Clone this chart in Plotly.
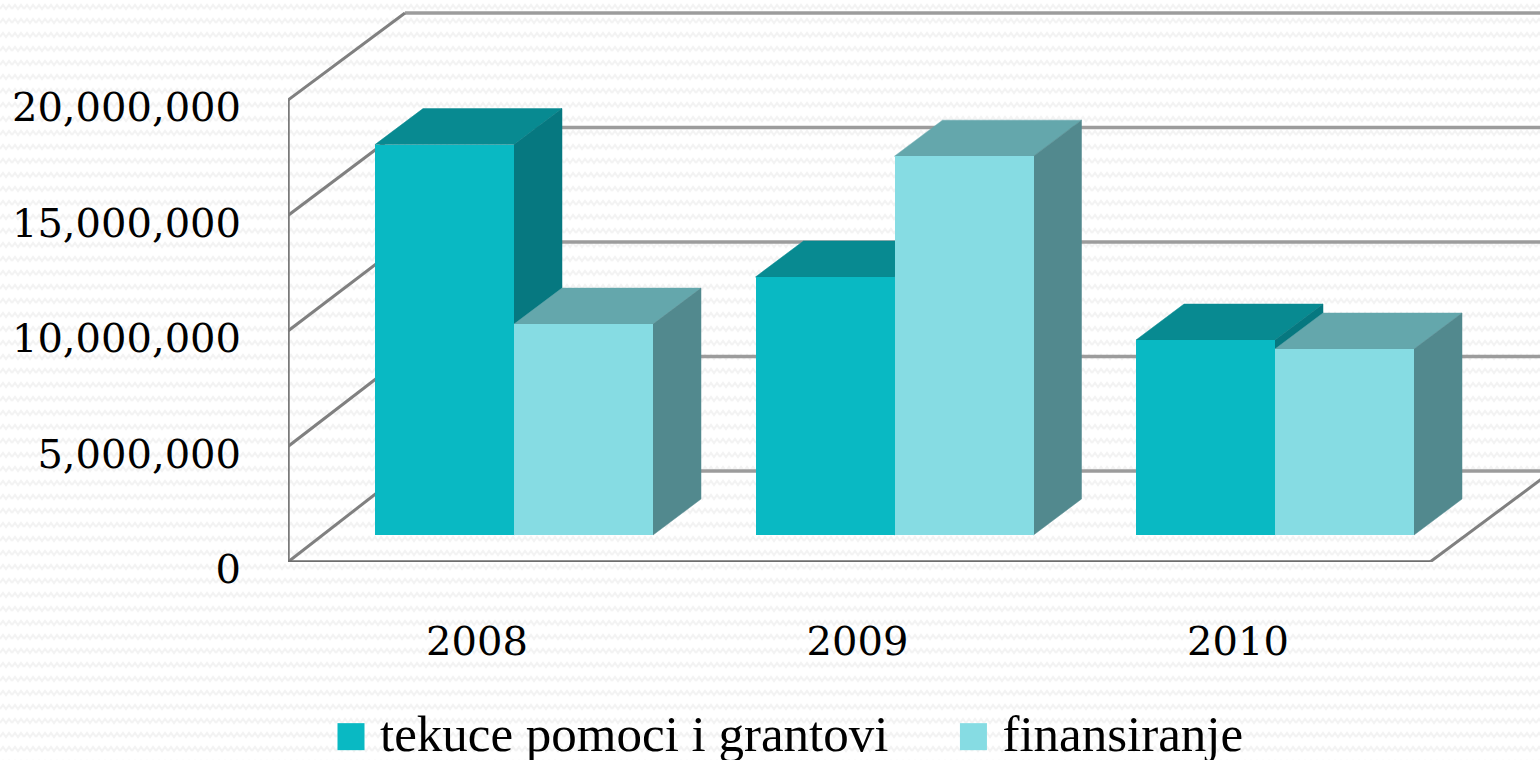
import plotly.graph_objects as go

# ---- data ----
years = ["2008", "2009", "2010"]
tekuce = [16900000, 11170000, 8440000]
finansiranje = [9130000, 16400000, 8050000]
y_ticks = [0, 5000000, 10000000, 15000000, 20000000]
names = ["tekuce pomoci i grantovi\u00a0\u00a0\u00a0\u00a0", "finansiranje"]

# ---- pseudo-3D geometry in axis units ----
PX_X = 380.5            # pixels per category
PX_Y = 462.0 / 20000000 # pixels per value unit
L, R, T, B = 288, 1540, 0, 562
BAR_W = 139 / PX_X
BAR_DX = 37 / PX_X      # bars sit part-way into the floor
BAR_BASE = 27 / PX_Y
BAR_DEPTH_X = 48 / PX_X
BAR_DEPTH_Y = 36 / PX_Y
WALL_DX = 117 / PX_X
WALL_DY = 87 / PX_Y
X0 = (L - 477) / PX_X
X1 = (R - 477) / PX_X
FLOOR_END = (1430 - 477) / PX_X

COL_FRONT = ["#09B9C3", "#86DCE3"]
COL_TOP = ["#088A91", "#64A7AC"]
COL_SIDE = ["#067880", "#52898E"]


def back_y(v):
    # the back wall is drawn slightly compressed against the front axis
    return (91 - 4 * v / y_ticks[-1]) / PX_Y + v


def line(x0, y0, x1, y1, color, width):
    return dict(type="line", xref="x", yref="y", layer="below",
                x0=x0, y0=y0, x1=x1, y1=y1,
                line=dict(color=color, width=width))


def poly(points, color):
    path = "M" + " L".join(f"{x},{y}" for x, y in points) + " Z"
    return dict(type="path", xref="x", yref="y", layer="below", path=path,
                fillcolor=color, line=dict(color=color, width=0.5))


shapes = []
for v in y_ticks:
    shapes.append(line(X0 + WALL_DX, back_y(v), X1, back_y(v), "#9c9c9c", 3.5))
for v in y_ticks:
    shapes.append(line(X0, v, X0 + WALL_DX, back_y(v), "#808080", 3))
shapes.append(line(X0, 0, X0, y_ticks[-1], "#7a7a7a", 3.5))
shapes.append(line(X0, 0, FLOOR_END, 0, "#6e6e6e", 3.5))
shapes.append(line(FLOOR_END, 0, FLOOR_END + WALL_DX, WALL_DY, "#808080", 3))

# top and side faces, computed from the values
for i in range(len(years)):
    for s, vals in enumerate([tekuce, finansiranje]):
        left = i + BAR_DX - BAR_W + s * BAR_W
        right = left + BAR_W
        top = BAR_BASE + vals[i]
        shapes.append(poly([(left, top), (right, top),
                            (right + BAR_DEPTH_X, top + BAR_DEPTH_Y),
                            (left + BAR_DEPTH_X, top + BAR_DEPTH_Y)], COL_TOP[s]))
        shapes.append(poly([(right, BAR_BASE), (right, top),
                            (right + BAR_DEPTH_X, top + BAR_DEPTH_Y),
                            (right + BAR_DEPTH_X, BAR_BASE + BAR_DEPTH_Y)], COL_SIDE[s]))

fig = go.Figure()
for s, vals in enumerate([tekuce, finansiranje]):
    fig.add_trace(go.Bar(
        name=names[s],
        x=[i + BAR_DX + (s - 0.5) * BAR_W for i in range(len(years))],
        y=vals, base=BAR_BASE, width=BAR_W,
        marker=dict(color=COL_FRONT[s], line=dict(width=0)),
    ))

TICK_FONT = dict(family="DejaVu Serif", size=40, color="#000000")

fig.update_layout(
    width=1540, height=760,
    margin=dict(l=L, r=1540 - R, t=T, b=760 - B, pad=0, autoexpand=False),
    paper_bgcolor="rgba(0,0,0,0)", plot_bgcolor="rgba(0,0,0,0)",
    barmode="overlay", bargap=0, showlegend=True,
    shapes=shapes,
    xaxis=dict(range=[X0, X1], tickmode="array", tickvals=[0, 1, 2], ticktext=years,
               showgrid=False, zeroline=False, showline=False, ticks="",
               tickfont=TICK_FONT, ticklabelstandoff=52, automargin=False, fixedrange=True),
    yaxis=dict(range=[0, B / PX_Y], tickmode="array", tickvals=y_ticks, tickformat=",",
               showgrid=False, zeroline=False, showline=False, ticks="",
               tickfont=TICK_FONT, ticklabelstandoff=46, ticklabelshift=7,
               automargin=False, fixedrange=True),
    legend=dict(orientation="h", xanchor="left", yanchor="top",
                x=(322 - L) / (R - L), y=(B - 691) / B, itemwidth=48,
                font=dict(family="Liberation Serif", size=51, color="#000000"),
                bgcolor="rgba(0,0,0,0)", itemclick=False, itemdoubleclick=False,
                traceorder="normal"),
)

post = r"""
document.body.style.margin = '0';
document.documentElement.style.overflow = 'hidden';
var svg = "<svg xmlns='http://www.w3.org/2000/svg' width='12' height='14'>" +
  "<rect width='12' height='14' fill='#ffffff'/>" +
  "<path d='M0 9 L3 5 L6 9 L9 5 L12 9' fill='none' stroke='#f3f3f3' stroke-width='2'/></svg>";
document.body.style.background = 'url("data:image/svg+xml,' + encodeURIComponent(svg) + '")';
function bigSwatches() {
  document.querySelectorAll('g.legendpoints path').forEach(function (p) {
    p.setAttribute('d', 'M13.5,19.5H-13.5V-7.5H13.5Z');
  });
}
bigSwatches();
setTimeout(bigSwatches, 50);
setTimeout(bigSwatches, 300);
"""
fig.write_html("out.html", post_script=post, config=dict(displayModeBar=False))
